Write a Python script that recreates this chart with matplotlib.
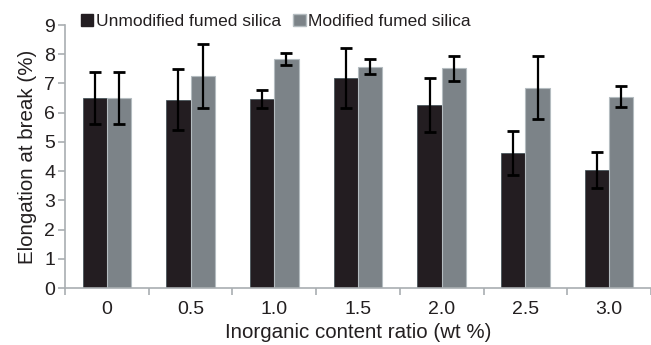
import matplotlib
matplotlib.use("Agg")
import matplotlib.pyplot as plt
import numpy as np
from matplotlib.patches import Patch

plt.rcParams['font.family'] = ['Liberation Sans', 'DejaVu Sans']

categories = ["0", "0.5", "1.0", "1.5", "2.0", "2.5", "3.0"]
unmodified = [6.50, 6.45, 6.46, 7.20, 6.27, 4.63, 4.04]
unmodified_err = [0.90, 1.05, 0.30, 1.03, 0.92, 0.75, 0.60]
modified = [6.50, 7.25, 7.83, 7.58, 7.52, 6.85, 6.54]
modified_err = [0.90, 1.10, 0.21, 0.25, 0.43, 1.08, 0.36]

dark = "#231d21"
grey = "#7c8388"
spine_c = "#a9aeb1"
text_c = "#231f20"

fig = plt.figure(figsize=(6.51, 3.45), dpi=100)
ax = fig.add_axes([0.0998, 0.165, 0.9002, 0.7625])

x = np.arange(len(categories))
w = 0.29
ekw = dict(ecolor="black", elinewidth=1.6, capsize=4.5, capthick=2.0)
ax.bar(x - w/2, unmodified, w, color=dark, edgecolor="#3a4a50", linewidth=0.5,
       yerr=unmodified_err, error_kw=ekw, label="Unmodified fumed silica")
ax.bar(x + w/2, modified, w, color=grey, edgecolor="#b4bcc0", linewidth=0.8,
       yerr=modified_err, error_kw=ekw, label="Modified fumed silica")

ax.set_xlim(-0.5, 6.5)
ax.set_ylim(0, 9)
ax.set_yticks(range(0, 10))
ax.set_xticks(x)
ax.set_xticklabels(categories)
ax.set_xticks(np.arange(-0.5, 6.6, 1.0), minor=True)
ax.tick_params(axis='x', which='major', length=0, pad=9, labelsize=14, labelcolor=text_c)
ax.tick_params(axis='x', which='minor', length=5, width=1.2, color=spine_c)
ax.tick_params(axis='y', length=5, width=1.2, color=spine_c, labelsize=14, labelcolor=text_c, pad=2)

for s in ['top', 'right']:
    ax.spines[s].set_visible(False)
for s in ['left', 'bottom']:
    ax.spines[s].set_color(spine_c)
    ax.spines[s].set_linewidth(1.2)

ax.set_ylabel("Elongation at break (%)", fontsize=14.8, color=text_c, labelpad=5)
ax.set_xlabel("Inorganic content ratio (wt %)", fontsize=14.8, color=text_c, labelpad=4)

handles = [Patch(facecolor=dark, edgecolor=dark), Patch(facecolor=grey, edgecolor="#b4bcc0")]
fig.legend(handles, ["Unmodified fumed silica", "Modified fumed silica"],
           loc="center", bbox_to_anchor=(0.424, 0.938), ncol=2, frameon=False,
           fontsize=12.5, handlelength=0.7, handleheight=0.7, handletextpad=0.15,
           columnspacing=0.7, labelcolor=text_c)

fig.savefig("out.png", dpi=100)
